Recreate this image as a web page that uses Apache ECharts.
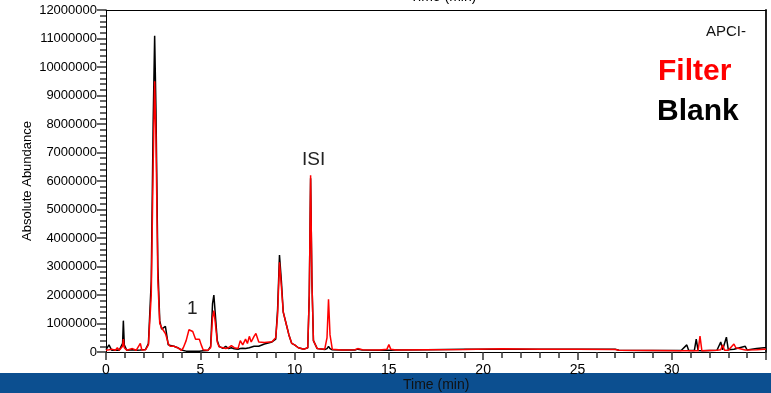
<!DOCTYPE html>
<html>
<head>
<meta charset="utf-8">
<script src="https://cdn.jsdelivr.net/npm/echarts@6/dist/echarts.min.js"></script>
<style>html,body{margin:0;padding:0;background:#fff}#c{width:771px;height:393px}</style>
</head>
<body>
<div id="c"></div>
<script>
// time (min)
const times = [0.0,0.16,0.3,0.5,0.6,0.7,0.8,0.88,0.92,0.97,1.1,1.4,1.5,1.6,1.82,1.9,2.1,2.25,2.4,2.5,2.58,2.65,2.75,2.85,2.95,3.05,3.15,3.22,3.3,3.4,3.6,3.8,4.0,4.1,4.25,4.4,4.5,4.6,4.75,4.85,4.95,5.05,5.15,5.4,5.55,5.65,5.72,5.8,5.9,6.0,6.2,6.35,6.5,6.65,6.8,7.0,7.12,7.25,7.4,7.5,7.6,7.7,7.85,7.95,8.1,8.4,8.8,9.0,9.1,9.2,9.3,9.4,9.55,9.7,9.85,10.0,10.2,10.5,10.7,10.78,10.85,10.92,11.0,11.2,11.6,11.72,11.8,11.88,12.0,12.5,13.2,13.35,13.6,14.5,14.9,15.0,15.1,15.4,17,19,21,23,25,27,27.2,29,30.5,30.8,30.9,31.2,31.3,31.4,31.5,31.6,32.4,32.6,32.7,32.8,32.9,33.0,33.3,33.4,33.9,34.0,34.5,34.9,34.95,35];
// Blank trace (black)
const blank = [80000,250000,60000,70000,60000,60000,70000,300000,1100000,250000,60000,80000,60000,60000,70000,70000,90000,300000,2500000,8000000,11100000,8500000,3000000,1100000,800000,750000,900000,950000,250000,180000,200000,150000,70000,40000,30000,30000,30000,30000,30000,30000,30000,30000,40000,50000,200000,1700000,2000000,1300000,400000,200000,130000,200000,120000,150000,110000,100000,120000,130000,120000,150000,150000,180000,200000,220000,200000,280000,350000,450000,1500000,3400000,2500000,1400000,1000000,600000,300000,250000,150000,100000,150000,2000000,6100000,2500000,400000,120000,90000,120000,200000,120000,80000,70000,70000,100000,70000,60000,60000,60000,60000,70000,80000,100000,100000,100000,100000,100000,60000,50000,50000,250000,50000,50000,450000,50000,40000,40000,60000,350000,80000,80000,520000,80000,100000,70000,200000,70000,120000,150000,150000,150000];
// Filter trace (red)
const filter = [60000,80000,100000,60000,150000,60000,60000,200000,450000,150000,60000,120000,60000,60000,300000,70000,80000,250000,2000000,6500000,9500000,7500000,2500000,1000000,850000,800000,650000,500000,300000,200000,200000,150000,60000,150000,400000,780000,820000,720000,450000,380000,450000,250000,80000,60000,150000,1200000,1450000,1000000,350000,180000,150000,120000,150000,220000,150000,120000,400000,250000,450000,300000,550000,350000,550000,650000,350000,330000,360000,500000,1300000,3150000,2300000,1400000,1000000,600000,300000,250000,150000,100000,150000,2000000,6200000,2500000,400000,120000,100000,500000,1850000,600000,100000,70000,80000,120000,80000,70000,100000,260000,100000,70000,80000,90000,110000,100000,100000,90000,60000,50000,40000,40000,40000,40000,40000,40000,560000,40000,60000,80000,250000,60000,60000,60000,280000,150000,70000,60000,80000,100000,100000,100000];
const xTicks = [0,5,10,15,20,25,30];

const chart = echarts.init(document.getElementById('c'), null, {renderer:'canvas'});
const FONT = 'Liberation Sans, Arial, sans-serif';
const TICK = '#333';
chart.setOption({
  animation:false,
  grid:{left:106,right:5,top:10,bottom:41},
  xAxis:[{
    type:'value',min:0,max:35,interval:5,position:'bottom',
    axisLine:{show:true,onZero:false,lineStyle:{color:'#000',width:1}},
    axisTick:{show:true,inside:false,length:8,lineStyle:{color:TICK,width:1.5}},
    minorTick:{show:true,splitNumber:5,length:6,lineStyle:{color:TICK,width:1.5}},
    splitLine:{show:false},minorSplitLine:{show:false},
    axisLabel:{fontFamily:FONT,fontSize:14,color:'#000',margin:11,
      formatter:v=>xTicks.indexOf(v)>=0?String(v):''}
  },{
    type:'value',position:'top',min:0,max:35,
    axisLine:{show:true,onZero:false,lineStyle:{color:'#000',width:1}},
    axisTick:{show:false},axisLabel:{show:false},splitLine:{show:false}
  }],
  yAxis:[{
    type:'value',min:0,max:12000000,interval:1000000,position:'left',
    name:'Absolute Abundance',nameLocation:'middle',nameGap:72,nameMoveOverlap:false,
    nameTextStyle:{fontFamily:FONT,fontSize:13,color:'#000'},
    axisLine:{show:true,onZero:false,lineStyle:{color:'#000',width:1}},
    axisTick:{show:true,inside:false,length:9,lineStyle:{color:TICK,width:1.5}},
    minorTick:{show:true,splitNumber:5,length:6,lineStyle:{color:TICK,width:1.5}},
    splitLine:{show:false},minorSplitLine:{show:false},
    axisLabel:{fontFamily:FONT,fontSize:13,color:'#000',margin:9,formatter:v=>String(v)}
  },{
    type:'value',min:0,max:12000000,position:'right',
    axisLine:{show:true,onZero:false,lineStyle:{color:'#222',width:2}},
    axisTick:{show:false},axisLabel:{show:false},splitLine:{show:false}
  }],
  series:[
    {name:'Blank',type:'line',showSymbol:false,clip:true,
     data:times.map((t,i)=>[t,blank[i]]),lineStyle:{color:'#000',width:1.5},z:2},
    {name:'Filter',type:'line',showSymbol:false,clip:true,
     data:times.map((t,i)=>[t,filter[i]]),lineStyle:{color:'#ff0000',width:1.5},z:3}
  ],
  graphic:[
    {type:'rect',left:0,top:373,shape:{width:771,height:20},style:{fill:'#0c4f90'},z:0},
    {type:'text',left:403,top:378,style:{text:'Time (min)',font:'14px '+FONT,fill:'#111'},z:10},
    {type:'text',left:410,top:-10,style:{text:'Time (min)',font:'14px '+FONT,fill:'#000'},z:10},
    {type:'text',left:187,top:299,style:{text:'1',font:'19px '+FONT,fill:'#222'},z:10},
    {type:'text',left:302,top:150,style:{text:'ISI',font:'19px '+FONT,fill:'#222'},z:10},
    {type:'text',right:25,top:24,style:{text:'APCI-',font:'15px '+FONT,fill:'#111'},z:10},
    {type:'text',left:658,top:57,style:{text:'Filter',font:'bold 30px '+FONT,fill:'#ff0000'},z:10},
    {type:'text',left:657,top:97,style:{text:'Blank',font:'bold 30px '+FONT,fill:'#000'},z:10}
  ]
});
</script>
</body>
</html>
